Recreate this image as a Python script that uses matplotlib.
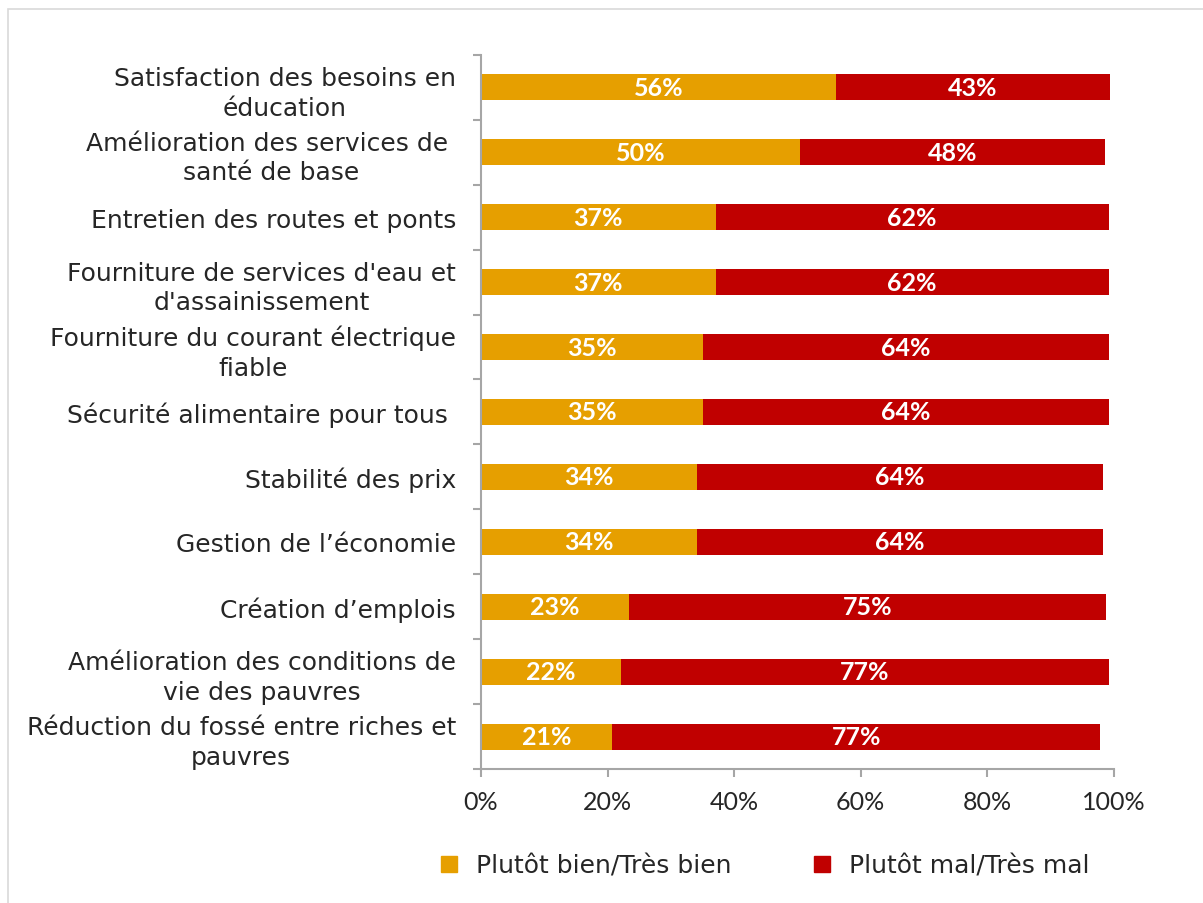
import numpy as np
import matplotlib.pyplot as plt
from matplotlib.patches import Rectangle
from matplotlib.lines import Line2D

plt.rcParams['font.family'] = ['DejaVu Sans']

categories = [
    "Satisfaction des besoins en\néducation",
    "Amélioration des services de \nsanté de base",
    "Entretien des routes et ponts",
    "Fourniture de services d'eau et\nd'assainissement",
    "Fourniture du courant électrique\nfiable",
    "Sécurité alimentaire pour tous ",
    "Stabilité des prix",
    "Gestion de l\u2019économie",
    "Création d\u2019emplois",
    "Amélioration des conditions de\nvie des pauvres",
    "Réduction du fossé entre riches et\npauvres",
]
bien = [56.1, 50.4, 37.1, 37.1, 35.1, 35.1, 34.1, 34.1, 23.4, 22.1, 20.7]
mal = [43.3, 48.2, 62.1, 62.1, 64.1, 64.1, 64.2, 64.2, 75.4, 77.1, 77.2]
series_names = ["Plutôt bien/Très bien", "Plutôt mal/Très mal"]
colors = ["#E69F00", "#C00000"]

fig = plt.figure(figsize=(12.03, 9.04), dpi=100)
ax = fig.add_axes([0.3998, 0.1482, 0.526, 0.790])

y = np.arange(len(categories))
ax.barh(y, bien, height=0.4, color=colors[0])
ax.barh(y, mal, left=bien, height=0.4, color=colors[1])

for i in range(len(categories)):
    ax.text(bien[i] / 2, y[i], f"{round(bien[i])}%", ha="center", va="center",
            color="white", fontsize=18, fontweight="bold", family="Lato")
    ax.text(bien[i] + mal[i] / 2, y[i], f"{round(mal[i])}%", ha="center", va="center",
            color="white", fontsize=18, fontweight="bold", family="Lato")

ax.set_xlim(0, 100)
ax.set_ylim(len(categories) - 0.5, -0.5)
ax.set_xticks(np.arange(0, 101, 20))
ax.set_xticklabels([f"{v}%" for v in range(0, 101, 20)], family="Lato")
ax.set_yticks(y)
ax.set_yticklabels(categories, multialignment="center", linespacing=1.3)
ax.set_yticks(np.arange(-0.5, len(categories), 1), minor=True)

for s in ["top", "right"]:
    ax.spines[s].set_visible(False)
for s in ["left", "bottom"]:
    ax.spines[s].set_color("#a6a6a6")
    ax.spines[s].set_linewidth(1.5)

ax.tick_params(axis="y", which="major", length=0, pad=18, labelsize=18, labelcolor="#262626")
ax.tick_params(axis="y", which="minor", length=6, width=1.5, color="#a6a6a6")
ax.tick_params(axis="x", which="major", length=6, width=1.5, color="#a6a6a6",
               pad=9, labelsize=18, labelcolor="#262626")

handles = [Line2D([], [], marker="s", linestyle="none", markersize=11,
                  markerfacecolor=c, markeredgecolor=c) for c in colors]
fig.legend(handles, series_names, loc="center", bbox_to_anchor=(0.629, 0.041), ncol=2,
           frameon=False, fontsize=18, handletextpad=0.1, columnspacing=2.6,
           labelcolor="#262626")

fig.patches.append(Rectangle((8 / 1203, -0.01), 1.0, 1 - 10 / 904 + 0.01,
                             transform=fig.transFigure, fill=False,
                             edgecolor="#d9d9d9", linewidth=1.2))

fig.savefig("out.png", dpi=100)
